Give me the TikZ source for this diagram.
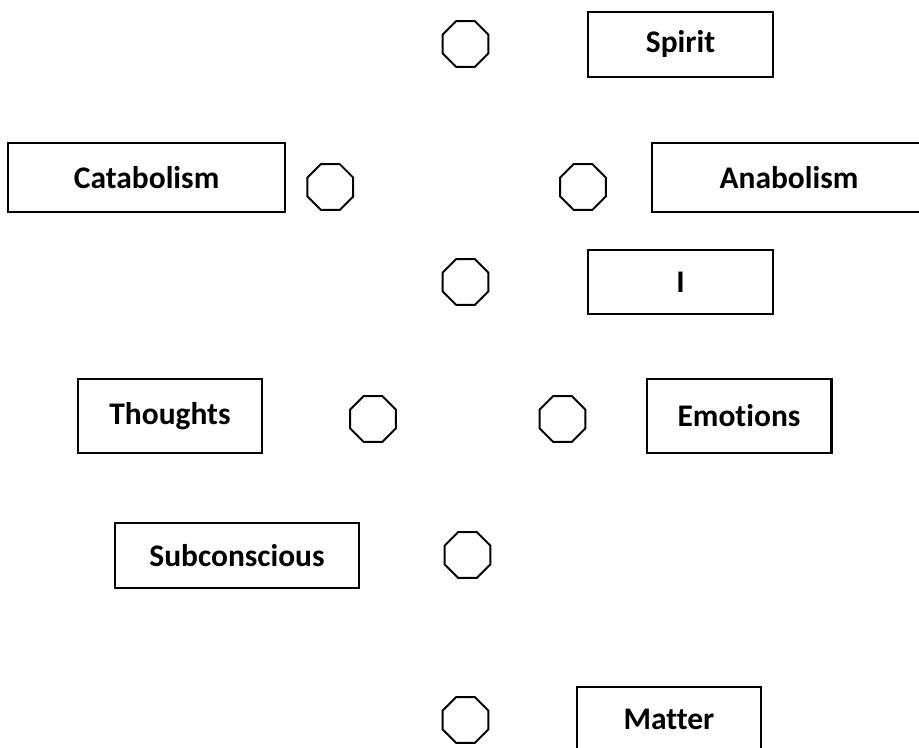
\documentclass[tikz,border=0pt]{standalone}
\usepackage{fontspec}
\setmainfont{Carlito}[Ligatures=NoCommon]
\usetikzlibrary{shapes.geometric}
\begin{document}
\begin{tikzpicture}[x=0.02cm,y=-0.02cm,
  lbl/.style={draw,line width=1.3pt,inner sep=0pt,font=\fontsize{17.9pt}{20pt}\selectfont\bfseries},
  oct/.style={draw,line width=1.1pt,regular polygon,regular polygon sides=8,minimum size=0.99cm,inner sep=0pt}]
\path[use as bounding box] (0,0) rectangle (919,747);
\clip (0,0) rectangle (919,747);
% boxes
\node[lbl,minimum width=184.4*0.02cm,minimum height=65*0.02cm] (spirit) at (680.5,44.2) {Spirit};
\node[lbl,minimum width=276.8*0.02cm,minimum height=69*0.02cm] (cata) at (146.6,177.2) {Catabolism};
\node[lbl,minimum width=274*0.02cm,minimum height=69*0.02cm] (ana) at (789,177.2) {Anabolism};
\node[lbl,minimum width=184.4*0.02cm,minimum height=64.3*0.02cm] (ego) at (680.5,282.2) {I};
\node[lbl,minimum width=184*0.02cm,minimum height=74*0.02cm] (thoughts) at (170,416) {Thoughts};
\node[lbl,minimum width=184.7*0.02cm,minimum height=74*0.02cm] (emotions) at (739,416) {Emotions};
\node[lbl,minimum width=244*0.02cm,minimum height=65*0.02cm] (subc) at (237,555.2) {Subconscious};
\node[lbl,minimum width=184.3*0.02cm,minimum height=65*0.02cm] (matter) at (668.9,719.5) {Matter};
% octagons
\node[oct] (o1) at (465.5,44) {};
\node[oct] (o2) at (330.3,187) {};
\node[oct] (o3) at (583,187) {};
\node[oct] (o4) at (465.5,282) {};
\node[oct] (o5) at (373,419) {};
\node[oct] (o6) at (562.5,419) {};
\node[oct] (o7) at (467.5,555) {};
\node[oct] (o8) at (465.5,720) {};
\end{tikzpicture}
\end{document}
